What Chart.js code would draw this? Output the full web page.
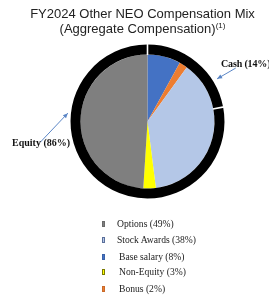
<!DOCTYPE html>
<html><head><meta charset="utf-8">
<script src="https://cdn.jsdelivr.net/npm/chart.js@4.4.1/dist/chart.umd.min.js"></script>
<style>
html,body{margin:0;padding:0;background:#fff;width:269px;height:300px;overflow:hidden;position:relative}
#wrap{position:absolute;left:0;top:0;width:269px;height:300px}
.title{position:absolute;left:0;width:285px;text-align:center;font-family:"Liberation Sans",Arial,sans-serif;font-size:13px;color:#222;line-height:15px}
.title sup{font-size:8px;vertical-align:5px;line-height:0}
.lbl{position:absolute;font-family:"Liberation Serif","Times New Roman",serif;font-weight:bold;font-size:10px;color:#111;white-space:nowrap}
.leg{position:absolute;font-family:"Liberation Serif","Times New Roman",serif;font-size:9.6px;color:#222;white-space:nowrap}
.sw{position:absolute;width:3px;height:6px;box-sizing:border-box}
</style></head><body>
<div id="wrap"><canvas id="c" width="269" height="300"></canvas></div>
<div class="title" style="top:6px">FY2024 Other NEO Compensation Mix</div>
<div class="title" style="top:21px">(Aggregate Compensation)<sup>(1)</sup></div>
<div class="lbl" style="left:221px;top:58px;letter-spacing:-0.15px">Cash (14%)</div>
<div class="lbl" style="left:12px;top:137px">Equity (86%)</div>
<div id="legend"></div>
<script>
// Inner pie (clockwise from top)
const pieLabels = ["Base salary (8%)", "Bonus (2%)", "Stock Awards (38%)", "Non-Equity (3%)", "Options (49%)"];
const pieValues = [8, 2, 38, 3, 49];
const pieColors = ["#4472c4", "#ed7d31", "#b4c7e7", "#ffff00", "#7f7f7f"];
const pieSwatchBorders = ["#3a62a8", "#c96a2a", "#5a6f9a", "#7a7a00", "#6a6a6a"];
// Outer ring as drawn in the picture (Cash segment, Equity segment)
const ringLabels = ["Cash (14%)", "Equity (86%)"];
const ringValues = [22, 78];
// Legend order (indices into the pie arrays)
const legendOrder = [4, 2, 0, 3, 1];

const ringSeparators = {
  id: 'ringSeparators',
  afterDatasetsDraw(chart) {
    const ctx = chart.ctx;
    const meta = chart.getDatasetMeta(0);
    ctx.save();
    ctx.strokeStyle = '#ffffff';
    ctx.lineWidth = 1.6;
    meta.data.forEach(a => {
      const p = a.getProps(['x','y','startAngle','innerRadius','outerRadius'], true);
      const c = Math.cos(p.startAngle), s = Math.sin(p.startAngle);
      ctx.beginPath();
      ctx.moveTo(p.x + c * (p.innerRadius - 0.5), p.y + s * (p.innerRadius - 0.5));
      ctx.lineTo(p.x + c * (p.outerRadius + 1), p.y + s * (p.outerRadius + 1));
      ctx.stroke();
    });
    // annotation arrows, relative to the ring
    const a0 = meta.data[0].getProps(['x','y','outerRadius'], true);
    const cx = a0.x, cy = a0.y, R = a0.outerRadius;
    function arrow(x1, y1, x2, y2) {
      ctx.strokeStyle = '#5b86c6';
      ctx.fillStyle = '#5b86c6';
      ctx.lineWidth = 1;
      ctx.beginPath(); ctx.moveTo(x1, y1); ctx.lineTo(x2, y2); ctx.stroke();
      const ang = Math.atan2(y2 - y1, x2 - x1), L = 5, W = 2.2;
      ctx.beginPath();
      ctx.moveTo(x2, y2);
      ctx.lineTo(x2 - L * Math.cos(ang) + W * Math.sin(ang), y2 - L * Math.sin(ang) - W * Math.cos(ang));
      ctx.lineTo(x2 - L * Math.cos(ang) - W * Math.sin(ang), y2 - L * Math.sin(ang) + W * Math.cos(ang));
      ctx.closePath(); ctx.fill();
    }
    function pt(deg, r) { const t = (deg - 90) * Math.PI / 180; return [cx + r * Math.cos(t), cy + r * Math.sin(t)]; }
    const c1 = pt(58.8, R * 1.34), c2 = pt(58.5, R * 1.06);
    arrow(c1[0], c1[1], c2[0], c2[1]);
    const e1 = pt(259, R * 1.42), e2 = pt(276, R * 1.04);
    arrow(e1[0], e1[1], e2[0], e2[1]);
    ctx.restore();
  }
};

new Chart(document.getElementById('c'), {
  type: 'doughnut',
  data: {
    labels: pieLabels,
    datasets: [
      { data: ringValues, backgroundColor: ['#000000', '#000000'], borderWidth: 0, weight: 1, hoverOffset: 0 },
      { data: pieValues, backgroundColor: pieColors, borderWidth: 0, weight: 6.7, hoverOffset: 0 }
    ]
  },
  options: {
    responsive: false,
    animation: false,
    events: [],
    cutout: 0,
    layout: { padding: { left: 70.5, right: 44.5, top: 44.5, bottom: 101.5 } },
    plugins: { legend: { display: false }, tooltip: { enabled: false }, title: { display: false } }
  },
  plugins: [ringSeparators]
});

// legend
const legEl = document.getElementById('legend');
const rowsY = [218, 234, 250.5, 266, 282.5];
const indents = [0, 0, 2, 2, 2];
legendOrder.forEach((idx, i) => {
  const sw = document.createElement('div');
  sw.className = 'sw';
  sw.style.left = '101.5px';
  sw.style.top = (rowsY[i] + 3) + 'px';
  sw.style.background = pieColors[idx];
  sw.style.border = '0.6px solid ' + pieSwatchBorders[idx];
  legEl.appendChild(sw);
  const t = document.createElement('div');
  t.className = 'leg';
  t.style.left = (117 + indents[i]) + 'px';
  t.style.top = rowsY[i] + 'px';
  t.textContent = pieLabels[idx];
  legEl.appendChild(t);
});
</script>
</body></html>
